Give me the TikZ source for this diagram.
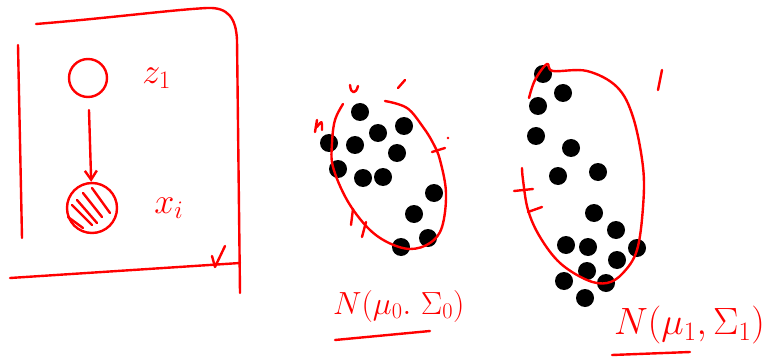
\RequirePackage{fix-cm}
\documentclass[tikz,border=0pt]{standalone}
\usepackage{amsmath}
\usetikzlibrary{arrows.meta,positioning}

\begin{document}
\begin{tikzpicture}[
    x=1pt, y=-1pt,
    pen/.style={draw=red, line width=2.4pt, line cap=round, line join=round},
    latent/.style={circle, pen, minimum size=38pt, inner sep=0pt},
    observed/.style={circle, pen, minimum size=50pt, inner sep=0pt},
    blob/.style={circle, fill=black, minimum size=18pt, inner sep=0pt},
    lbl/.style={text=red, inner sep=0pt},
    arrow/.style={pen, -{Straight Barb[length=9pt, width=12pt]}}
]
    \useasboundingbox (0,0) rectangle (783,358);
    \clip (0,0) rectangle (783,358);

    % plate
    \draw[pen] (36,24) .. controls (110,18) and (170,10) .. (207,8)
        .. controls (228,7) and (236,18) .. (237,40) -- (240,293);
    \draw[pen] (18,45) -- (22,238);
    \draw[pen] (10,278) -- (240,263);
    \draw[pen] (212,256) -- (215,267) -- (225,246);

    \node[latent] (z) at (88,78) {};
    \node[observed] (x) at (92,208) {};
    \node[lbl, font=\fontsize{36}{40}\selectfont, right=34pt of z] (zlbl) {$z_1$};
    \node[lbl, font=\fontsize{36}{40}\selectfont, right=36pt of x] (xlbl) {$x_i$};
    \draw[arrow, shorten <=12pt] (z) -- (x);
    \foreach \a/\b/\c/\d in {68/217/83/228, 72/205/92/225, 77/200/97/223, 83/193/102/217, 92/188/110/213}
        \draw[pen] (\a,\b) -- (\c,\d);

    % cluster 0
    \foreach \p [count=\i] in {(360,112),(329,143),(355,145),(378,133),(404,126),(397,153),(338,169),
        (363,178),(383,177),(434,193),(414,214),(428,238),(401,247)}
        \node[blob] (a\i) at \p {};
    \draw[pen] plot[smooth, tension=0.6] coordinates {(343,104) (335,120) (332,143) (333,167)
        (347,200) (367,227) (387,242) (410,249) (430,243) (442,227) (446,193) (440,160)
        (433,143) (423,127) (407,108) (385,101)};
    \draw[pen] (350,85) .. controls (351,95) and (356,94) .. (358,86);
    \draw[pen] (405,80) -- (398,88);
    \draw[pen] (317,120) -- (315,132) (317,127) .. controls (322,120) .. (322,130);
    \draw[pen] (432,152) -- (445,148);
    \fill[red] (448,138) circle (1.3pt);
    \draw[pen] (353,209) -- (351,225) (366,222) -- (362,237);

    % cluster 1
    \foreach \p [count=\i] in {(543,74),(563,93),(538,106),(536,136),(571,148),(558,176),(598,172),
        (594,213),(616,230),(566,245),(588,247),(637,248),(617,260),(587,271),(564,281),(606,283),(585,298)}
        \node[blob] (b\i) at \p {};
    \draw[pen] plot[smooth, tension=0.6] coordinates {(529,98) (535,80) (547,64) (553,71)
        (587,71) (617,87) (633,117) (643,167) (643,207) (637,250) (623,273) (607,283)
        (587,280) (560,263) (540,237) (528,210) (523,180) (522,168)};
    \draw[pen] (514,191) -- (533,189) (528,212) -- (542,207);
    \draw[pen] (662,70) -- (658,90);

    % labels
    \node[lbl, font=\fontsize{32}{36}\selectfont, anchor=west] (n0) at (333,306) {$N(\mu_0.\ \Sigma_0)$};
    \draw[pen] (335,340) -- (430,331);
    \node[lbl, font=\fontsize{38}{42}\selectfont, anchor=west] (n1) at (614,325) {$N(\mu_1,\Sigma_1)$};
    \draw[pen] (612,355) -- (690,352);
\end{tikzpicture}
\end{document}
